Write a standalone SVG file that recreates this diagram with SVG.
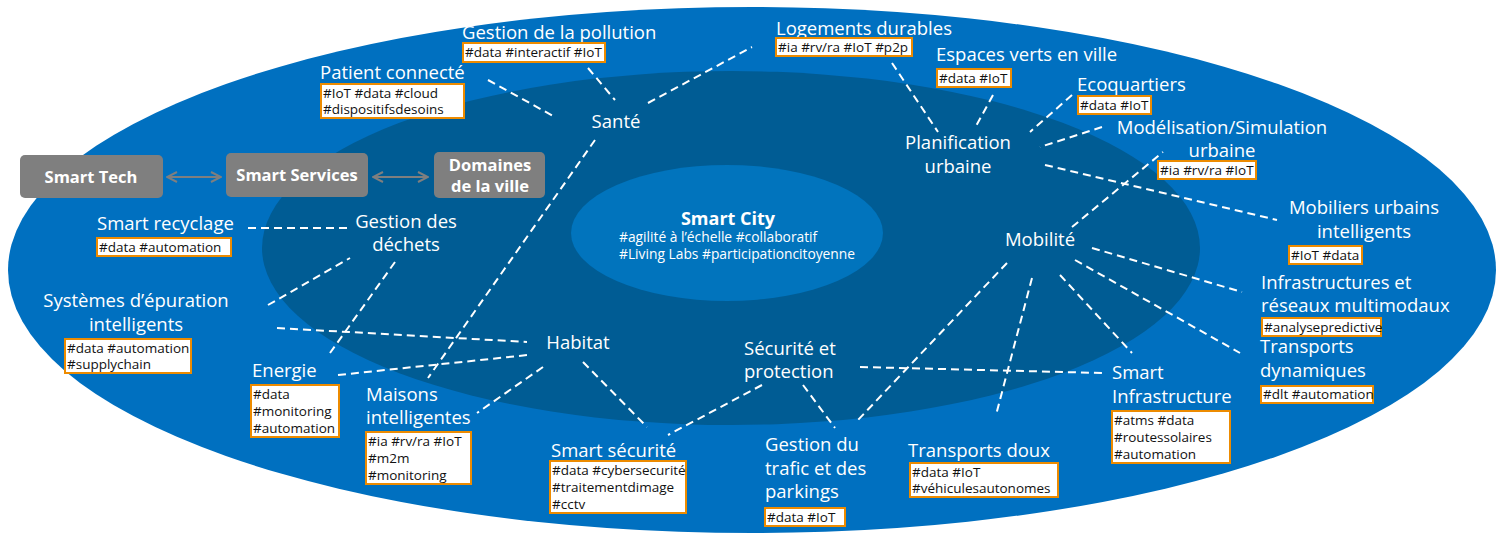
<svg xmlns="http://www.w3.org/2000/svg" width="1503" height="540" viewBox="0 0 1503 540">
<defs>
<style>
.lbl{font-family:"Open Sans","Noto Sans",sans-serif;font-size:18.5px;fill:#fff}
.tag{font-family:"Open Sans","Noto Sans",sans-serif;font-size:13.5px;fill:#111}
.tb{fill:#fff;stroke:#ED8B00;stroke-width:2}
.gb{fill:#7F7F7F}
.gt{font-family:"Open Sans","Noto Sans",sans-serif;font-size:16.5px;font-weight:bold;fill:#fff;text-anchor:middle}
.dl{stroke:#fff;stroke-width:2;stroke-dasharray:8 5;fill:none}
.ar{stroke:#7F7F7F;stroke-width:2;fill:none}
.m{text-anchor:middle}
</style>
<marker id="ah" viewBox="0 0 12 12" refX="11" refY="6" markerWidth="12" markerHeight="12" markerUnits="userSpaceOnUse" orient="auto-start-reverse">
<path d="M1,1 L11,6 L1,11" fill="none" stroke="#7F7F7F" stroke-width="2"/>
</marker>
</defs>
<rect width="1503" height="540" fill="#fff"/>
<ellipse cx="752" cy="270" rx="744" ry="263" fill="#0070C0"/>
<ellipse cx="731" cy="248" rx="469" ry="177" fill="#005C94"/>
<ellipse cx="727" cy="233" rx="156" ry="68" fill="#0174BD"/>

<g id="connectors">
<line class="dl" x1="488" y1="80" x2="555" y2="117"/>
<line class="dl" x1="588" y1="68" x2="615" y2="100"/>
<line class="dl" x1="648" y1="103" x2="752" y2="47"/>
<line class="dl" x1="595" y1="140" x2="428" y2="378"/>
<line class="dl" x1="248" y1="228" x2="350" y2="228"/>
<line class="dl" x1="268" y1="305" x2="350" y2="258"/>
<line class="dl" x1="395" y1="262" x2="330" y2="353"/>
<line class="dl" x1="277" y1="328" x2="527" y2="342"/>
<line class="dl" x1="338" y1="375" x2="528" y2="355"/>
<line class="dl" x1="543" y1="367" x2="477" y2="413"/>
<line class="dl" x1="583" y1="362" x2="647" y2="427"/>
<line class="dl" x1="762" y1="385" x2="668" y2="435"/>
<line class="dl" x1="803" y1="385" x2="835" y2="428"/>
<line class="dl" x1="860" y1="367" x2="1103" y2="373"/>
<line class="dl" x1="1072" y1="227" x2="1163" y2="152"/>
<line class="dl" x1="1045" y1="165" x2="1277" y2="220"/>
<line class="dl" x1="1092" y1="248" x2="1242" y2="292"/>
<line class="dl" x1="1075" y1="260" x2="1240" y2="353"/>
<line class="dl" x1="1060" y1="275" x2="1132" y2="353"/>
<line class="dl" x1="1032" y1="278" x2="996" y2="415"/>
<line class="dl" x1="1007" y1="263" x2="858" y2="420"/>
<line class="dl" x1="892" y1="63" x2="938" y2="132"/>
<line class="dl" x1="993" y1="95" x2="975" y2="128"/>
<line class="dl" x1="1072" y1="95" x2="1030" y2="132"/>
<line class="dl" x1="1102" y1="127" x2="1040" y2="147"/>
<line class="ar" x1="167" y1="177" x2="221" y2="177" marker-start="url(#ah)" marker-end="url(#ah)"/>
<line class="ar" x1="373" y1="177" x2="428" y2="177" marker-start="url(#ah)" marker-end="url(#ah)"/>
</g>

<g id="smart-city">
<text x="728" y="225" class="m" style="font-family:'Open Sans','Noto Sans',sans-serif;font-size:18px;font-weight:bold;fill:#fff">Smart City</text>
<text x="619" y="242" class="tag" style="fill:#fff;font-size:13.8px">#agilité à l’échelle #collaboratif</text>
<text x="619" y="259" class="tag" style="fill:#fff;font-size:13.8px">#Living Labs #participationcitoyenne</text>
</g>

<g id="smart-tech"><rect class="gb" x="20" y="155" width="143" height="43" rx="5"/><text class="gt" x="91" y="183">Smart Tech</text></g>
<g id="smart-services"><rect class="gb" x="226" y="153" width="142" height="44" rx="5"/><text class="gt" x="297" y="181">Smart Services</text></g>
<g id="domaines"><rect class="gb" x="434" y="152" width="111" height="46" rx="5"/><text class="gt" x="490" y="171">Domaines</text><text class="gt" x="490" y="192">de la ville</text></g>

<g id="sante"><text class="lbl m" x="616" y="128">Santé</text></g>
<g id="gestion-dechets"><text class="lbl m" x="406" y="228">Gestion des</text><text class="lbl m" x="406" y="251">déchets</text></g>
<g id="planification"><text class="lbl m" x="958" y="149">Planification</text><text class="lbl m" x="958" y="173">urbaine</text></g>
<g id="mobilite"><text class="lbl m" x="1040" y="246">Mobilité</text></g>
<g id="habitat"><text class="lbl m" x="578" y="349">Habitat</text></g>
<g id="securite"><text class="lbl" x="744" y="355">Sécurité et</text><text class="lbl" x="744" y="378">protection</text></g>

<g id="pollution"><text class="lbl" x="462" y="39">Gestion de la pollution</text><rect class="tb" x="463" y="43" width="142" height="19"/><text class="tag" x="465" y="57">#data #interactif #IoT</text></g>
<g id="patient"><text class="lbl" x="320" y="79">Patient connecté</text><rect class="tb" x="321" y="84" width="143" height="34"/><text class="tag" x="323" y="98">#IoT #data #cloud</text><text class="tag" x="323" y="114">#dispositifsdesoins</text></g>
<g id="logements"><text class="lbl" x="776" y="35">Logements durables</text><rect class="tb" x="776" y="38" width="136" height="18"/><text class="tag" x="778" y="52">#ia #rv/ra #IoT #p2p</text></g>
<g id="espaces-verts"><text class="lbl" x="936" y="61">Espaces verts en ville</text><rect class="tb" x="937" y="69" width="74" height="18"/><text class="tag" x="939" y="83">#data #IoT</text></g>
<g id="ecoquartiers"><text class="lbl" x="1077" y="91">Ecoquartiers</text><rect class="tb" x="1078" y="96" width="73" height="18"/><text class="tag" x="1080" y="110">#data #IoT</text></g>
<g id="modelisation"><text class="lbl m" x="1222" y="134">Modélisation/Simulation</text><text class="lbl m" x="1222" y="157">urbaine</text><rect class="tb" x="1158" y="161" width="98" height="18"/><text class="tag" x="1160" y="175">#ia #rv/ra #IoT</text></g>
<g id="mobiliers"><text class="lbl m" x="1364" y="214">Mobiliers urbains</text><text class="lbl m" x="1364" y="238">intelligents</text><rect class="tb" x="1289" y="246" width="73" height="18"/><text class="tag" x="1291" y="260">#IoT #data</text></g>
<g id="infrastructures-reseaux"><text class="lbl" x="1261" y="289">Infrastructures et</text><text class="lbl" x="1261" y="312">réseaux multimodaux</text><rect class="tb" x="1262" y="318" width="119" height="18"/><text class="tag" x="1264" y="332">#analysepredictive</text></g>
<g id="transports-dynamiques"><text class="lbl" x="1260" y="353">Transports</text><text class="lbl" x="1260" y="377">dynamiques</text><rect class="tb" x="1261" y="386" width="112" height="17"/><text class="tag" x="1263" y="399">#dlt #automation</text></g>
<g id="smart-infrastructure"><text class="lbl" x="1112" y="379">Smart</text><text class="lbl" x="1112" y="403">Infrastructure</text><rect class="tb" x="1112" y="411" width="118" height="52"/><text class="tag" x="1114" y="425">#atms #data</text><text class="tag" x="1114" y="442">#routessolaires</text><text class="tag" x="1114" y="459">#automation</text></g>
<g id="transports-doux"><text class="lbl" x="908" y="457">Transports doux</text><rect class="tb" x="910" y="463" width="148" height="34"/><text class="tag" x="912" y="477">#data #IoT</text><text class="tag" x="912" y="493">#véhiculesautonomes</text></g>
<g id="trafic"><text class="lbl" x="765" y="451">Gestion du</text><text class="lbl" x="765" y="475">trafic et des</text><text class="lbl" x="765" y="498">parkings</text><rect class="tb" x="765" y="508" width="80" height="18"/><text class="tag" x="767" y="522">#data #IoT</text></g>
<g id="smart-securite"><text class="lbl" x="551" y="457">Smart sécurité</text><rect class="tb" x="550" y="461" width="136" height="52"/><text class="tag" x="552" y="475">#data #cybersecurité</text><text class="tag" x="552" y="492">#traitementdimage</text><text class="tag" x="552" y="509">#cctv</text></g>
<g id="maisons"><text class="lbl" x="366" y="401">Maisons</text><text class="lbl" x="366" y="424">intelligentes</text><rect class="tb" x="366" y="432" width="105" height="52"/><text class="tag" x="368" y="446">#ia #rv/ra #IoT</text><text class="tag" x="368" y="463">#m2m</text><text class="tag" x="368" y="480">#monitoring</text></g>
<g id="energie"><text class="lbl" x="252" y="377">Energie</text><rect class="tb" x="251" y="385" width="88" height="52"/><text class="tag" x="253" y="399">#data</text><text class="tag" x="253" y="416">#monitoring</text><text class="tag" x="253" y="433">#automation</text></g>
<g id="epuration"><text class="lbl m" x="136" y="307">Systèmes d’épuration</text><text class="lbl m" x="136" y="331">intelligents</text><rect class="tb" x="65" y="339" width="126" height="34"/><text class="tag" x="67" y="353">#data #automation</text><text class="tag" x="67" y="369">#supplychain</text></g>
<g id="recyclage"><text class="lbl" x="97" y="230">Smart recyclage</text><rect class="tb" x="97" y="238" width="134" height="18"/><text class="tag" x="99" y="252">#data #automation</text></g>
</svg>
